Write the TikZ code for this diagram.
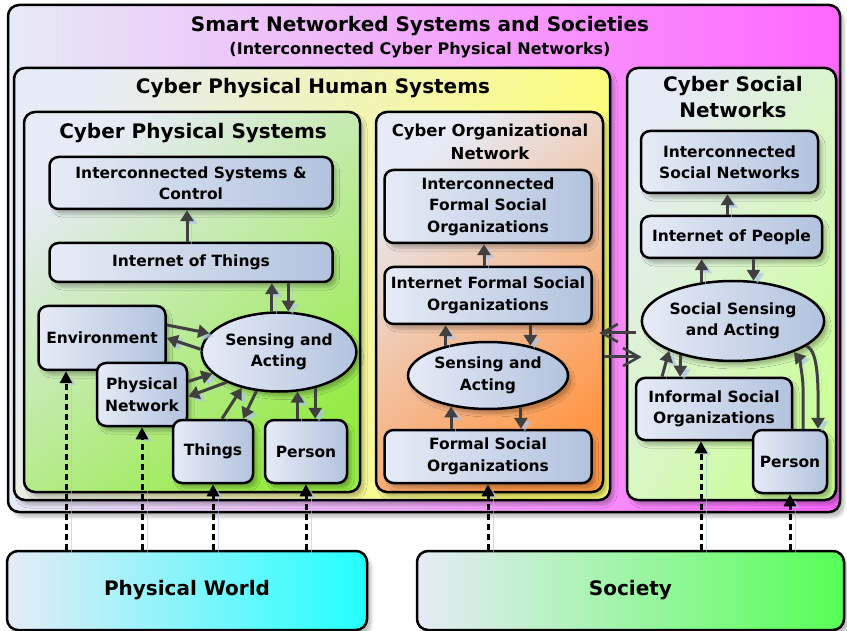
\documentclass[tikz,border=0pt]{standalone}
\usepackage{fontspec}
\setmainfont{DejaVu Sans}
\usepackage{xcolor}
\definecolor{paleblue}{RGB}{230,235,246}
\definecolor{boxblue}{RGB}{178,195,222}
\definecolor{magentabg}{RGB}{255,102,255}
\definecolor{yellowbg}{RGB}{255,255,110}
\definecolor{greenbg}{RGB}{150,235,70}
\definecolor{orangebg}{RGB}{255,150,70}
\definecolor{lightgreenbg}{RGB}{204,255,153}
\definecolor{cyanbg}{RGB}{34,255,255}
\definecolor{societybg}{RGB}{85,255,85}
\definecolor{arrowgrey}{RGB}{64,64,64}
\definecolor{shadowblue}{RGB}{175,195,230}
\usepackage{tikz}
\usetikzlibrary{
  shapes.geometric, arrows.meta, positioning,
  calc, shadows.blur
}

\newcommand\itemfont{\fontsize{15.5}{21.5}\selectfont\bfseries}
\newcommand\titlefont{\fontsize{20}{26}\selectfont\bfseries}

\tikzset{
  boxshadow/.style={blur shadow={shadow xshift=4pt, shadow yshift=-5pt,
      shadow opacity=25, shadow blur radius=3pt}},
  panel/.style={draw=black, line width=2.5pt, rounded corners=11pt,
    inner sep=0pt, boxshadow},
  item/.style={draw=black, line width=2.5pt, rounded corners=9pt,
    left color=paleblue, right color=boxblue, align=center,
    font=\itemfont, inner sep=1pt, boxshadow},
  sensing/.style={item, ellipse},
  title/.style={font=\titlefont, align=center, inner sep=0pt},
  arr/.style={draw=arrowgrey, line width=3pt,
    -{Triangle[length=11pt,width=13pt]},
    preaction={draw=shadowblue, opacity=.6,
      transform canvas={shift={(4pt,-3pt)}}}},
  oarr/.style={draw=arrowgrey, line width=3pt,
    -{Straight Barb[length=16pt,width=18pt,line width=2.6pt]}},
  darr/.style={draw=black, line width=3pt, dash pattern=on 6pt off 4pt,
    -{Triangle[length=12pt,width=12pt]},
    preaction={draw=shadowblue, opacity=.6,
      transform canvas={shift={(5pt,-3pt)}}}}
}

\begin{document}
\begin{tikzpicture}[x=1pt, y=-1pt]
  \useasboundingbox (0,0) rectangle (847,631);

  \node[panel, left color=paleblue, right color=magentabg,
    minimum width=832pt, minimum height=507pt] (sns) at (424,258.5) {};
  \node[title] (snsT) at (420,26) {Smart Networked Systems and Societies};
  \node[title, font=\fontsize{16}{20}\selectfont\bfseries] (snsS) at (420,50)
    {(Interconnected Cyber Physical Networks)};

  \node[panel, left color=paleblue, right color=yellowbg, shading angle=70,
    minimum width=596pt, minimum height=432pt] (cphs) at (312,284) {};
  \node[title] (cphsT) at (313,88) {Cyber Physical Human Systems};

  \node[panel, left color=paleblue, right color=greenbg, shading angle=40,
    minimum width=336pt, minimum height=380pt] (cps) at (192,302) {};
  \node[title] (cpsT) at (193,133) {Cyber Physical Systems};

  \node[panel, left color=paleblue, right color=orangebg, shading angle=40,
    minimum width=227pt, minimum height=380pt] (con) at (489.5,302) {};
  \node[title, font=\fontsize{16.5}{23}\selectfont\bfseries] (conT) at (490,141.5)
    {Cyber Organizational\\Network};

  \node[panel, left color=paleblue, right color=lightgreenbg, shading angle=60,
    minimum width=209pt, minimum height=432pt] (csn) at (731.5,284) {};
  \node[title] (csnT) at (733,97.5) {Cyber Social\\Networks};

  % cyber physical systems
  \node[item, minimum width=283pt, minimum height=52pt] (isc) at (191,183)
    {Interconnected Systems \&\\Control};
  \node[item, minimum width=283pt, minimum height=39pt] (iot) at (191,262.5)
    {Internet of Things};
  \node[item, minimum width=127pt, minimum height=64pt] (env) at (102,338)
    {Environment};
  \node[item, minimum width=90pt, minimum height=63pt] (pnet) at (142,394.5)
    {Physical\\Network};
  \node[item, minimum width=80pt, minimum height=63pt] (things) at (213,451.5)
    {Things};
  \node[item, minimum width=82pt, minimum height=63pt] (cpsperson) at (306,451.5)
    {Person};
  \node[sensing, minimum width=138pt, minimum height=79pt] (cpsSA) at (279,352)
    {Sensing and\\Acting};

  % cyber organizational network
  \node[item, minimum width=207pt, minimum height=73pt] (ifso) at (488,206.5)
    {Interconnected\\Formal Social\\Organizations};
  \node[item, minimum width=207pt, minimum height=57pt] (netfso) at (488,295.5)
    {Internet Formal Social\\Organizations};
  \node[sensing, minimum width=160pt, minimum height=67pt] (conSA) at (488,375.5)
    {Sensing and\\Acting};
  \node[item, minimum width=207pt, minimum height=53pt] (fso) at (488,456.5)
    {Formal Social\\Organizations};

  % cyber social networks
  \node[item, minimum width=177pt, minimum height=62pt] (isn) at (729.5,162)
    {Interconnected\\Social Networks};
  \node[item, minimum width=181pt, minimum height=42pt] (iop) at (731.5,237)
    {Internet of People};
  \node[sensing, minimum width=172pt, minimum height=80pt] (ssa) at (733,321)
    {Social Sensing\\and Acting};
  \node[item, minimum width=156pt, minimum height=62pt] (iso) at (714,409)
    {Informal Social\\Organizations};
  \node[item, minimum width=74pt, minimum height=63pt] (csnperson) at (790,461.5)
    {Person};

  \node[panel, left color=paleblue, right color=cyanbg, font=\titlefont,
    minimum width=360pt, minimum height=79pt] (pw) at (187,590.5) {Physical World};
  \node[panel, left color=paleblue, right color=societybg, font=\titlefont,
    minimum width=427pt, minimum height=79pt] (soc) at (630.5,590.5) {Society};

  % arrows inside cyber physical systems
  \draw[arr] ([xshift=-4pt]iot.north) -- ([xshift=-4pt]iot.north |- isc.south);
  \draw[arr] (cpsSA.100) -- (cpsSA.100 |- iot.south);
  \draw[arr] (cpsSA.77 |- iot.south) -- (cpsSA.77);
  \draw[arr] ([yshift=13pt]env.east) -- (cpsSA.165);
  \draw[arr] (cpsSA.178) -- (env.east);
  \draw[arr] ([yshift=13pt]pnet.east) -- (cpsSA.198);
  \draw[arr] (cpsSA.210) -- ([yshift=-2pt]pnet.east);
  \draw[arr] ([xshift=9pt]things.north) -- (cpsSA.224);
  \draw[arr] (cpsSA.240) -- ([xshift=30pt]things.north);
  \draw[arr] (cpsSA.295 |- cpsperson.north) -- (cpsSA.295);
  \draw[arr] (cpsSA.315) -- (cpsSA.315 |- cpsperson.north);

  % arrows inside cyber organizational network
  \draw[arr] ([xshift=-4pt]netfso.north) -- ([xshift=-4pt]netfso.north |- ifso.south);
  \draw[arr] (conSA.145) -- (conSA.145 |- netfso.south);
  \draw[arr] (conSA.35 |- netfso.south) -- (conSA.35);
  \draw[arr] (conSA.220 |- fso.north) -- (conSA.220);
  \draw[arr] (conSA.316) -- (conSA.316 |- fso.north);

  % arrows inside cyber social networks
  \draw[arr] ([xshift=-4pt]iop.north) -- ([xshift=-4pt]iop.north |- isn.south);
  \draw[arr] (ssa.129) -- (ssa.129 |- iop.south);
  \draw[arr] (ssa.63 |- iop.south) -- (ssa.63);
  \draw[arr] ([xshift=-52pt]iso.north) -- (ssa.205);
  \draw[arr] (ssa.213) -- ([xshift=-34pt]iso.north);
  \draw[arr] ([xshift=13pt]csnperson.north) -- ++(0,-42)
    .. controls +(0,-10) and +(5,6) .. (ssa.333);
  \draw[arr] (ssa.341) .. controls +(14,3) and +(0,-30) .. ([xshift=28pt]csnperson.north);

  % between the two networks
  \draw[oarr] ([shift={(-5pt,-12pt)}]ssa.west) -- ([shift={(-5pt,-12pt)}]ssa.west -| con.east);
  \draw[oarr] ([yshift=-36pt]ssa.west -| con.east) -- ([shift={(1pt,-36pt)}]ssa.west);

  % from the physical world and society
  \coordinate (envIn) at ([xshift=-36pt]env.south);
  \coordinate (isoIn) at ([xshift=-13pt]iso.south);
  \draw[darr] (pw.north -| envIn) -- (envIn);
  \draw[darr] (pw.north -| pnet.south) -- (pnet.south);
  \draw[darr] (pw.north -| things.south) -- (things.south);
  \draw[darr] (pw.north -| cpsperson.south) -- (cpsperson.south);
  \draw[darr] (soc.north -| fso.south) -- (fso.south);
  \draw[darr] (soc.north -| isoIn) -- (isoIn);
  \draw[darr] (soc.north -| csnperson.south) -- (csnperson.south);
\end{tikzpicture}
\end{document}
